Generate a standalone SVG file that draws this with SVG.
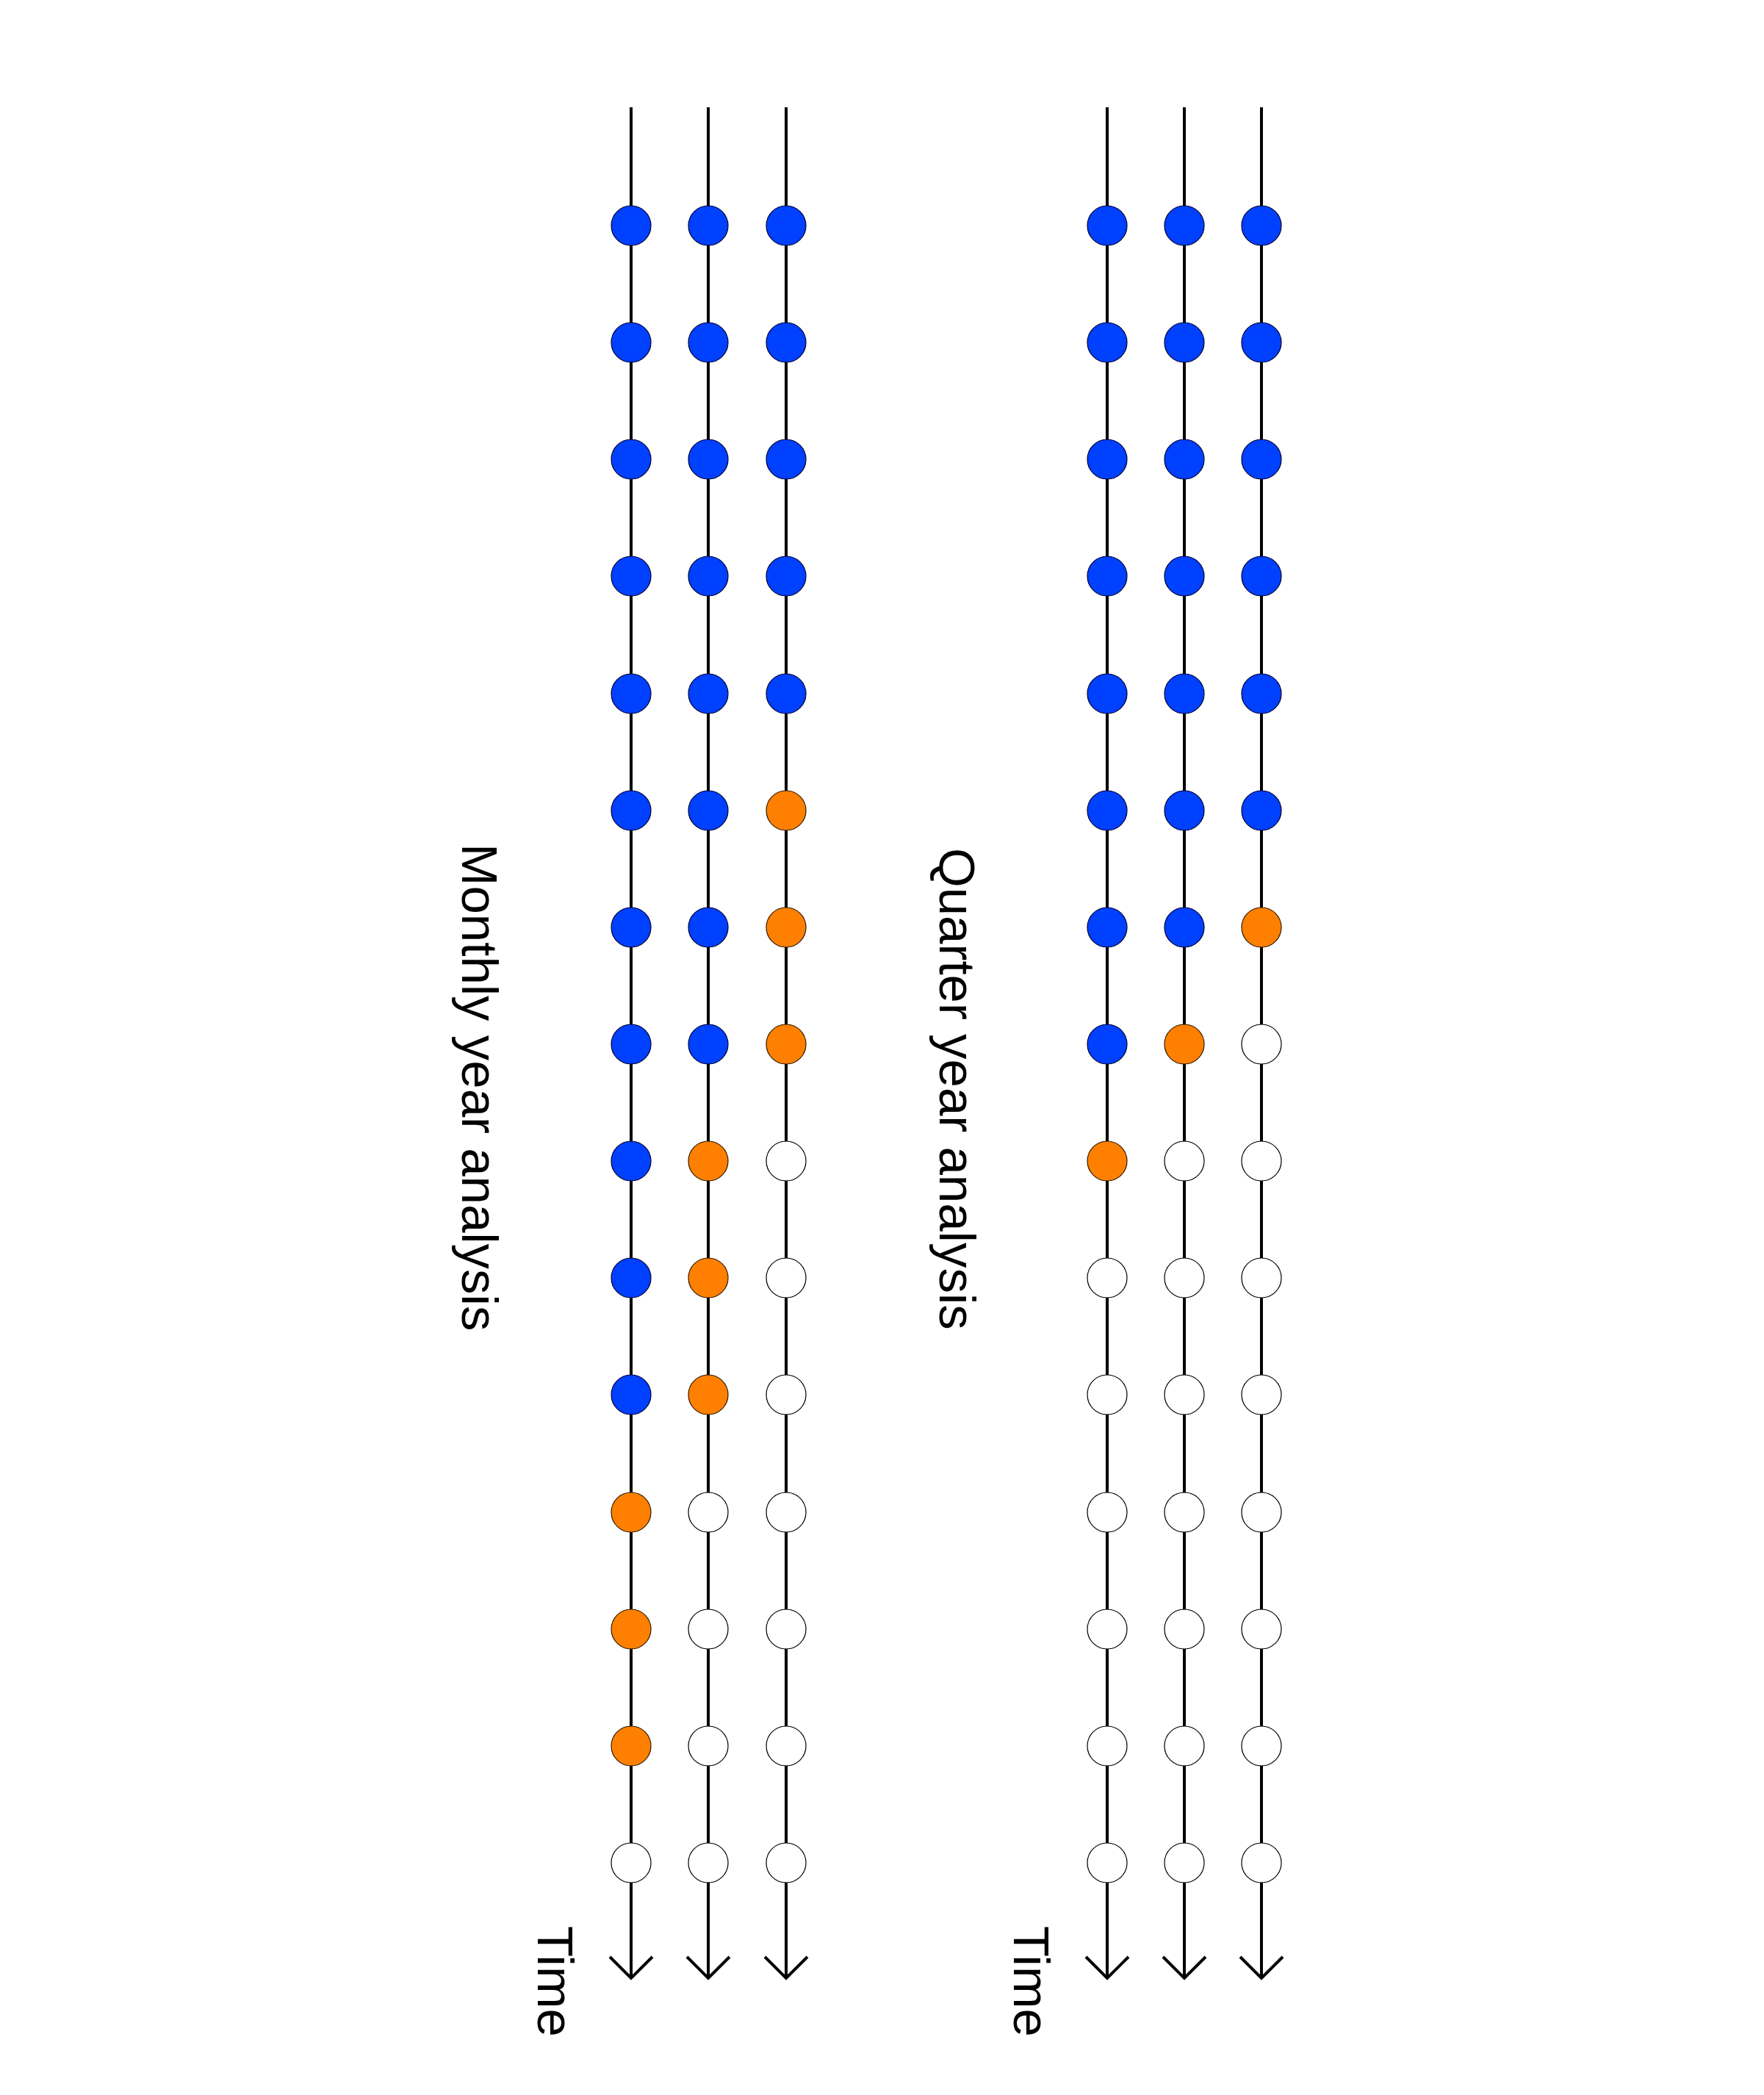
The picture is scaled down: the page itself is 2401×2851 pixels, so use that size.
<svg xmlns="http://www.w3.org/2000/svg" width="2401" height="2851" viewBox="0 0 2401 2851">
<style>
.axis{stroke:#000;stroke-width:4;fill:none}
.b{fill:#0040ff;stroke:#000033;stroke-width:1.2}
.o{fill:#ff8000;stroke:#331a00;stroke-width:1.2}
.w{fill:#fff;stroke:#000;stroke-width:1.2}
.lbl{font-family:"Liberation Sans",Arial,sans-serif;font-size:69px;fill:#000}
</style>
<rect width="2401" height="2851" fill="#fff"/>
<g id="connectors">
<line class="axis" x1="859" y1="146" x2="859" y2="2692"/>
<line class="axis" x1="964" y1="146" x2="964" y2="2692"/>
<line class="axis" x1="1070" y1="146" x2="1070" y2="2692"/>
<line class="axis" x1="1507" y1="146" x2="1507" y2="2692"/>
<line class="axis" x1="1612" y1="146" x2="1612" y2="2692"/>
<line class="axis" x1="1717" y1="146" x2="1717" y2="2692"/>
<polyline class="axis" points="830,2663 859,2692 888,2663"/>
<polyline class="axis" points="935,2663 964,2692 993,2663"/>
<polyline class="axis" points="1041,2663 1070,2692 1099,2663"/>
<polyline class="axis" points="1478,2663 1507,2692 1536,2663"/>
<polyline class="axis" points="1583,2663 1612,2692 1641,2663"/>
<polyline class="axis" points="1688,2663 1717,2692 1746,2663"/>
</g>
<g id="monthly-col1">
<circle class="b" cx="859" cy="307" r="27"/>
<circle class="b" cx="859" cy="466" r="27"/>
<circle class="b" cx="859" cy="625" r="27"/>
<circle class="b" cx="859" cy="784" r="27"/>
<circle class="b" cx="859" cy="944" r="27"/>
<circle class="b" cx="859" cy="1103" r="27"/>
<circle class="b" cx="859" cy="1262" r="27"/>
<circle class="b" cx="859" cy="1421" r="27"/>
<circle class="b" cx="859" cy="1580" r="27"/>
<circle class="b" cx="859" cy="1739" r="27"/>
<circle class="b" cx="859" cy="1898" r="27"/>
<circle class="o" cx="859" cy="2058" r="27"/>
<circle class="o" cx="859" cy="2217" r="27"/>
<circle class="o" cx="859" cy="2376" r="27"/>
<circle class="w" cx="859" cy="2535" r="27"/>
</g>
<g id="monthly-col2">
<circle class="b" cx="964" cy="307" r="27"/>
<circle class="b" cx="964" cy="466" r="27"/>
<circle class="b" cx="964" cy="625" r="27"/>
<circle class="b" cx="964" cy="784" r="27"/>
<circle class="b" cx="964" cy="944" r="27"/>
<circle class="b" cx="964" cy="1103" r="27"/>
<circle class="b" cx="964" cy="1262" r="27"/>
<circle class="b" cx="964" cy="1421" r="27"/>
<circle class="o" cx="964" cy="1580" r="27"/>
<circle class="o" cx="964" cy="1739" r="27"/>
<circle class="o" cx="964" cy="1898" r="27"/>
<circle class="w" cx="964" cy="2058" r="27"/>
<circle class="w" cx="964" cy="2217" r="27"/>
<circle class="w" cx="964" cy="2376" r="27"/>
<circle class="w" cx="964" cy="2535" r="27"/>
</g>
<g id="monthly-col3">
<circle class="b" cx="1070" cy="307" r="27"/>
<circle class="b" cx="1070" cy="466" r="27"/>
<circle class="b" cx="1070" cy="625" r="27"/>
<circle class="b" cx="1070" cy="784" r="27"/>
<circle class="b" cx="1070" cy="944" r="27"/>
<circle class="o" cx="1070" cy="1103" r="27"/>
<circle class="o" cx="1070" cy="1262" r="27"/>
<circle class="o" cx="1070" cy="1421" r="27"/>
<circle class="w" cx="1070" cy="1580" r="27"/>
<circle class="w" cx="1070" cy="1739" r="27"/>
<circle class="w" cx="1070" cy="1898" r="27"/>
<circle class="w" cx="1070" cy="2058" r="27"/>
<circle class="w" cx="1070" cy="2217" r="27"/>
<circle class="w" cx="1070" cy="2376" r="27"/>
<circle class="w" cx="1070" cy="2535" r="27"/>
</g>
<g id="quarter-col1">
<circle class="b" cx="1507" cy="307" r="27"/>
<circle class="b" cx="1507" cy="466" r="27"/>
<circle class="b" cx="1507" cy="625" r="27"/>
<circle class="b" cx="1507" cy="784" r="27"/>
<circle class="b" cx="1507" cy="944" r="27"/>
<circle class="b" cx="1507" cy="1103" r="27"/>
<circle class="b" cx="1507" cy="1262" r="27"/>
<circle class="b" cx="1507" cy="1421" r="27"/>
<circle class="o" cx="1507" cy="1580" r="27"/>
<circle class="w" cx="1507" cy="1739" r="27"/>
<circle class="w" cx="1507" cy="1898" r="27"/>
<circle class="w" cx="1507" cy="2058" r="27"/>
<circle class="w" cx="1507" cy="2217" r="27"/>
<circle class="w" cx="1507" cy="2376" r="27"/>
<circle class="w" cx="1507" cy="2535" r="27"/>
</g>
<g id="quarter-col2">
<circle class="b" cx="1612" cy="307" r="27"/>
<circle class="b" cx="1612" cy="466" r="27"/>
<circle class="b" cx="1612" cy="625" r="27"/>
<circle class="b" cx="1612" cy="784" r="27"/>
<circle class="b" cx="1612" cy="944" r="27"/>
<circle class="b" cx="1612" cy="1103" r="27"/>
<circle class="b" cx="1612" cy="1262" r="27"/>
<circle class="o" cx="1612" cy="1421" r="27"/>
<circle class="w" cx="1612" cy="1580" r="27"/>
<circle class="w" cx="1612" cy="1739" r="27"/>
<circle class="w" cx="1612" cy="1898" r="27"/>
<circle class="w" cx="1612" cy="2058" r="27"/>
<circle class="w" cx="1612" cy="2217" r="27"/>
<circle class="w" cx="1612" cy="2376" r="27"/>
<circle class="w" cx="1612" cy="2535" r="27"/>
</g>
<g id="quarter-col3">
<circle class="b" cx="1717" cy="307" r="27"/>
<circle class="b" cx="1717" cy="466" r="27"/>
<circle class="b" cx="1717" cy="625" r="27"/>
<circle class="b" cx="1717" cy="784" r="27"/>
<circle class="b" cx="1717" cy="944" r="27"/>
<circle class="b" cx="1717" cy="1103" r="27"/>
<circle class="o" cx="1717" cy="1262" r="27"/>
<circle class="w" cx="1717" cy="1421" r="27"/>
<circle class="w" cx="1717" cy="1580" r="27"/>
<circle class="w" cx="1717" cy="1739" r="27"/>
<circle class="w" cx="1717" cy="1898" r="27"/>
<circle class="w" cx="1717" cy="2058" r="27"/>
<circle class="w" cx="1717" cy="2217" r="27"/>
<circle class="w" cx="1717" cy="2376" r="27"/>
<circle class="w" cx="1717" cy="2535" r="27"/>
</g>
<g id="labels">
<text class="lbl" transform="translate(629,1148) rotate(90)">Monthly year analysis</text>
<text class="lbl" transform="translate(1279,1154) rotate(90)">Quarter year analysis</text>
<text class="lbl" transform="translate(732,2621) rotate(90)">Time</text>
<text class="lbl" transform="translate(1380,2621) rotate(90)">Time</text>
</g>
</svg>
